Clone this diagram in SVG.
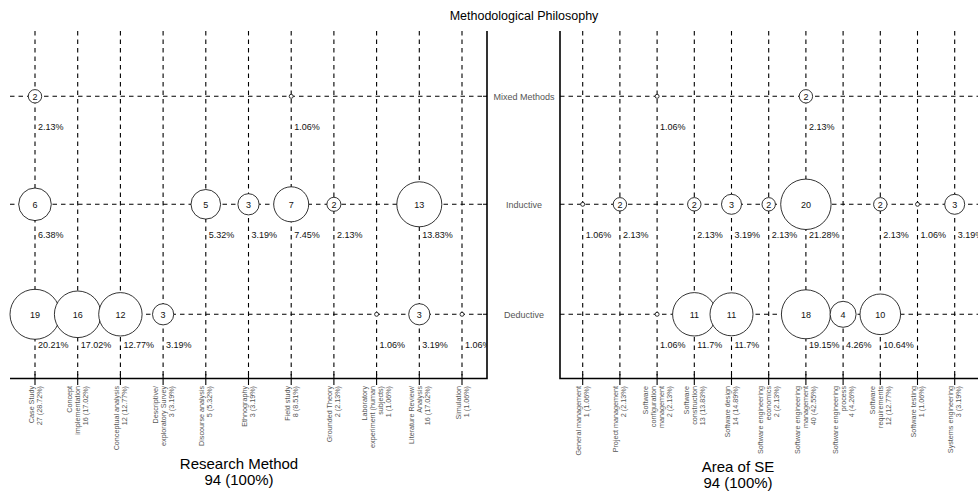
<svg xmlns="http://www.w3.org/2000/svg" width="978" height="493" viewBox="0 0 978 493">
  <style>
    .grid { stroke: #000; stroke-width: 1.1; stroke-dasharray: 4.5 4; fill: none; }
    .axis { stroke: #000; stroke-width: 1.6; fill: none; }
    .tick { stroke: #000; stroke-width: 1.1; }
    .bub { fill: #fff; stroke: #000; stroke-width: 0.8; }
    .num { font-family: "Liberation Sans", Arial, sans-serif; font-size: 9px; fill: #111; text-anchor: middle; }
    .pct { font-family: "Liberation Sans", Arial, sans-serif; font-size: 9px; fill: #111; }
    .row { font-family: "Liberation Sans", Arial, sans-serif; font-size: 9px; fill: #555; text-anchor: middle; }
    .cat { font-family: "Liberation Sans", Arial, sans-serif; font-size: 7.2px; fill: #555; text-anchor: end; }
    .title { font-family: "Liberation Sans", Arial, sans-serif; fill: #000; text-anchor: middle; }
  </style>
  <defs>
    <clipPath id="leftPanel"><rect x="0" y="0" width="487" height="493"/></clipPath>
  </defs>
  <rect width="978" height="493" fill="#fff"/>

  <text class="title" x="524" y="20" font-size="12.5">Methodological Philosophy</text>

  <!-- grid lines (connectors) -->
  <g id="connectors">
    <g clip-path="url(#leftPanel)">
      <path class="grid" d="M10 96.3H487M10 204.3H487M10 314.3H487"/>
      <path class="grid" d="M35 31V378.5M77.7 31V378.5M120.4 31V378.5M163.1 31V378.5M205.8 31V378.5M248.5 31V378.5M291.2 31V378.5M333.9 31V378.5M376.6 31V378.5M419.3 31V378.5M462 31V378.5"/>
    </g>
    <path class="grid" d="M560 96.3H978M560 204.3H978M560 314.3H978"/>
    <path class="grid" d="M582.7 31V378.5M619.9 31V378.5M657.1 31V378.5M694.3 31V378.5M731.5 31V378.5M768.7 31V378.5M805.9 31V378.5M843.1 31V378.5M880.3 31V378.5M917.5 31V378.5M954.7 31V378.5"/>
  </g>

  <!-- axes -->
  <g id="axes">
    <path class="axis" d="M10 378.5H487V31"/>
    <path class="axis" d="M560 31V378.5H978"/>
    <path class="tick" d="M483 96.3H487M483 204.3H487M483 314.3H487"/>
    <path class="tick" d="M35 374V385M77.7 374V385M120.4 374V385M163.1 374V385M205.8 374V385M248.5 374V385M291.2 374V385M333.9 374V385M376.6 374V385M419.3 374V385M462 374V385"/>
    <path class="tick" d="M582.7 374V385M619.9 374V385M657.1 374V385M694.3 374V385M731.5 374V385M768.7 374V385M805.9 374V385M843.1 374V385M880.3 374V385M917.5 374V385M954.7 374V385"/>
  </g>

  <!-- row labels -->
  <g id="rowLabels">
    <text class="row" x="524" y="99.5">Mixed Methods</text>
    <text class="row" x="524" y="207.5">Inductive</text>
    <text class="row" x="524" y="317.5">Deductive</text>
  </g>

  <!-- Research Method bubbles -->
  <g id="research-method" clip-path="url(#leftPanel)">
    <g id="rm-mixed-case"><circle class="bub" cx="35" cy="96.3" r="6.7"/><text class="num" x="35" y="99.5">2</text><text class="pct" x="38" y="130.3">2.13%</text></g>
    <g id="rm-mixed-field"><circle class="bub" cx="291.2" cy="96.3" r="2"/><text class="pct" x="294.2" y="130.3">1.06%</text></g>

    <g id="rm-ind-case"><circle class="bub" cx="35" cy="204.3" r="16.3"/><text class="num" x="35" y="207.5">6</text><text class="pct" x="38" y="238.3">6.38%</text></g>
    <g id="rm-ind-discourse"><circle class="bub" cx="205.8" cy="204.3" r="14.8"/><text class="num" x="205.8" y="207.5">5</text><text class="pct" x="208.8" y="238.3">5.32%</text></g>
    <g id="rm-ind-ethno"><circle class="bub" cx="248.5" cy="204.3" r="10.6"/><text class="num" x="248.5" y="207.5">3</text><text class="pct" x="251.5" y="238.3">3.19%</text></g>
    <g id="rm-ind-field"><circle class="bub" cx="291.2" cy="204.3" r="17.5"/><text class="num" x="291.2" y="207.5">7</text><text class="pct" x="294.2" y="238.3">7.45%</text></g>
    <g id="rm-ind-grounded"><circle class="bub" cx="333.9" cy="204.3" r="7"/><text class="num" x="333.9" y="207.5">2</text><text class="pct" x="336.9" y="238.3">2.13%</text></g>
    <g id="rm-ind-litreview"><circle class="bub" cx="419.3" cy="204.3" r="22.5"/><text class="num" x="419.3" y="207.5">13</text><text class="pct" x="422.3" y="238.3">13.83%</text></g>

    <g id="rm-ded-case"><circle class="bub" cx="35" cy="314.3" r="25"/><text class="num" x="35" y="317.5">19</text><text class="pct" x="38" y="348.3">20.21%</text></g>
    <g id="rm-ded-concept"><circle class="bub" cx="77.7" cy="314.3" r="23.3"/><text class="num" x="77.7" y="317.5">16</text><text class="pct" x="80.7" y="348.3">17.02%</text></g>
    <g id="rm-ded-conceptual"><circle class="bub" cx="120.4" cy="314.3" r="21.7"/><text class="num" x="120.4" y="317.5">12</text><text class="pct" x="123.4" y="348.3">12.77%</text></g>
    <g id="rm-ded-survey"><circle class="bub" cx="163.1" cy="314.3" r="10.6"/><text class="num" x="163.1" y="317.5">3</text><text class="pct" x="166.1" y="348.3">3.19%</text></g>
    <g id="rm-ded-lab"><circle class="bub" cx="376.6" cy="314.3" r="2"/><text class="pct" x="379.6" y="348.3">1.06%</text></g>
    <g id="rm-ded-litreview"><circle class="bub" cx="419.3" cy="314.3" r="10.6"/><text class="num" x="419.3" y="317.5">3</text><text class="pct" x="422.3" y="348.3">3.19%</text></g>
    <g id="rm-ded-simulation"><circle class="bub" cx="462" cy="314.3" r="2"/><text class="pct" x="465" y="348.3">1.06%</text></g>
  </g>

  <!-- Area of SE bubbles -->
  <g id="area-of-se">
    <g id="se-mixed-config"><circle class="bub" cx="657.1" cy="96.3" r="2"/><text class="pct" x="660.1" y="130.3">1.06%</text></g>
    <g id="se-mixed-mgmt"><circle class="bub" cx="805.9" cy="96.3" r="6.7"/><text class="num" x="805.9" y="99.5">2</text><text class="pct" x="808.9" y="130.3">2.13%</text></g>

    <g id="se-ind-general"><circle class="bub" cx="582.7" cy="204.3" r="2"/><text class="pct" x="585.7" y="238.3">1.06%</text></g>
    <g id="se-ind-project"><circle class="bub" cx="619.9" cy="204.3" r="6.7"/><text class="num" x="619.9" y="207.5">2</text><text class="pct" x="622.9" y="238.3">2.13%</text></g>
    <g id="se-ind-construction"><circle class="bub" cx="694.3" cy="204.3" r="6.7"/><text class="num" x="694.3" y="207.5">2</text><text class="pct" x="697.3" y="238.3">2.13%</text></g>
    <g id="se-ind-design"><circle class="bub" cx="731.5" cy="204.3" r="10"/><text class="num" x="731.5" y="207.5">3</text><text class="pct" x="734.5" y="238.3">3.19%</text></g>
    <g id="se-ind-economics"><circle class="bub" cx="768.7" cy="204.3" r="6.7"/><text class="num" x="768.7" y="207.5">2</text><text class="pct" x="771.7" y="238.3">2.13%</text></g>
    <g id="se-ind-mgmt"><circle class="bub" cx="805.9" cy="204.3" r="25.2"/><text class="num" x="805.9" y="207.5">20</text><text class="pct" x="808.9" y="238.3">21.28%</text></g>
    <g id="se-ind-requirements"><circle class="bub" cx="880.3" cy="204.3" r="6.7"/><text class="num" x="880.3" y="207.5">2</text><text class="pct" x="883.3" y="238.3">2.13%</text></g>
    <g id="se-ind-testing"><circle class="bub" cx="917.5" cy="204.3" r="2"/><text class="pct" x="920.5" y="238.3">1.06%</text></g>
    <g id="se-ind-systems"><circle class="bub" cx="954.7" cy="204.3" r="10"/><text class="num" x="954.7" y="207.5">3</text><text class="pct" x="957.7" y="238.3">3.19%</text></g>

    <g id="se-ded-config"><circle class="bub" cx="657.1" cy="314.3" r="2"/><text class="pct" x="660.1" y="348.3">1.06%</text></g>
    <g id="se-ded-construction"><circle class="bub" cx="694.3" cy="314.3" r="21.7"/><text class="num" x="694.3" y="317.5">11</text><text class="pct" x="697.3" y="348.3">11.7%</text></g>
    <g id="se-ded-design"><circle class="bub" cx="731.5" cy="314.3" r="21.5"/><text class="num" x="731.5" y="317.5">11</text><text class="pct" x="734.5" y="348.3">11.7%</text></g>
    <g id="se-ded-mgmt"><circle class="bub" cx="805.9" cy="314.3" r="24.5"/><text class="num" x="805.9" y="317.5">18</text><text class="pct" x="808.9" y="348.3">19.15%</text></g>
    <g id="se-ded-process"><circle class="bub" cx="843.1" cy="314.3" r="13"/><text class="num" x="843.1" y="317.5">4</text><text class="pct" x="846.1" y="348.3">4.26%</text></g>
    <g id="se-ded-requirements"><circle class="bub" cx="880.3" cy="314.3" r="20.3"/><text class="num" x="880.3" y="317.5">10</text><text class="pct" x="883.3" y="348.3">10.64%</text></g>
  </g>

  <!-- category labels, Research Method -->
  <g id="rm-categories">
    <text class="cat" transform="translate(35,386) rotate(-90)"><tspan x="0" y="-1.5">Case Study</tspan><tspan x="0" y="6.5">27 (28.72%)</tspan></text>
    <text class="cat" transform="translate(77.7,386) rotate(-90)"><tspan x="0" y="-5.5">Concept</tspan><tspan x="0" y="2.5">implementation</tspan><tspan x="0" y="10.5">16 (17.02%)</tspan></text>
    <text class="cat" transform="translate(120.4,386) rotate(-90)"><tspan x="0" y="-1.5">Conceptual analysis</tspan><tspan x="0" y="6.5">12 (12.77%)</tspan></text>
    <text class="cat" transform="translate(163.1,386) rotate(-90)"><tspan x="0" y="-5.5">Descriptive/</tspan><tspan x="0" y="2.5">exploratory Survey</tspan><tspan x="0" y="10.5">3 (3.19%)</tspan></text>
    <text class="cat" transform="translate(205.8,386) rotate(-90)"><tspan x="0" y="-1.5">Discourse analysis</tspan><tspan x="0" y="6.5">5 (5.32%)</tspan></text>
    <text class="cat" transform="translate(248.5,386) rotate(-90)"><tspan x="0" y="-1.5">Ethnography</tspan><tspan x="0" y="6.5">3 (3.19%)</tspan></text>
    <text class="cat" transform="translate(291.2,386) rotate(-90)"><tspan x="0" y="-1.5">Field study</tspan><tspan x="0" y="6.5">8 (8.51%)</tspan></text>
    <text class="cat" transform="translate(333.9,386) rotate(-90)"><tspan x="0" y="-1.5">Grounded Theory</tspan><tspan x="0" y="6.5">2 (2.13%)</tspan></text>
    <text class="cat" transform="translate(376.6,386) rotate(-90)"><tspan x="0" y="-9.5">Laboratory</tspan><tspan x="0" y="-1.5">experiment (human</tspan><tspan x="0" y="6.5">subjects)</tspan><tspan x="0" y="14.5">1 (1.06%)</tspan></text>
    <text class="cat" transform="translate(419.3,386) rotate(-90)"><tspan x="0" y="-5.5">Literature Review/</tspan><tspan x="0" y="2.5">Analysis</tspan><tspan x="0" y="10.5">16 (17.02%)</tspan></text>
    <text class="cat" transform="translate(462,386) rotate(-90)"><tspan x="0" y="-1.5">Simulation</tspan><tspan x="0" y="6.5">1 (1.06%)</tspan></text>
  </g>

  <!-- category labels, Area of SE -->
  <g id="se-categories">
    <text class="cat" transform="translate(582.7,386) rotate(-90)"><tspan x="0" y="-1.5">General management</tspan><tspan x="0" y="6.5">1 (1.06%)</tspan></text>
    <text class="cat" transform="translate(619.9,386) rotate(-90)"><tspan x="0" y="-1.5">Project management</tspan><tspan x="0" y="6.5">2 (2.13%)</tspan></text>
    <text class="cat" transform="translate(657.1,386) rotate(-90)"><tspan x="0" y="-9.5">Software</tspan><tspan x="0" y="-1.5">configuration</tspan><tspan x="0" y="6.5">management</tspan><tspan x="0" y="14.5">2 (2.13%)</tspan></text>
    <text class="cat" transform="translate(694.3,386) rotate(-90)"><tspan x="0" y="-5.5">Software</tspan><tspan x="0" y="2.5">construction</tspan><tspan x="0" y="10.5">13 (13.83%)</tspan></text>
    <text class="cat" transform="translate(731.5,386) rotate(-90)"><tspan x="0" y="-1.5">Software design</tspan><tspan x="0" y="6.5">14 (14.89%)</tspan></text>
    <text class="cat" transform="translate(768.7,386) rotate(-90)"><tspan x="0" y="-5.5">Software engineering</tspan><tspan x="0" y="2.5">economics</tspan><tspan x="0" y="10.5">2 (2.13%)</tspan></text>
    <text class="cat" transform="translate(805.9,386) rotate(-90)"><tspan x="0" y="-5.5">Software engineering</tspan><tspan x="0" y="2.5">management</tspan><tspan x="0" y="10.5">40 (42.55%)</tspan></text>
    <text class="cat" transform="translate(843.1,386) rotate(-90)"><tspan x="0" y="-5.5">Software engineering</tspan><tspan x="0" y="2.5">process</tspan><tspan x="0" y="10.5">4 (4.26%)</tspan></text>
    <text class="cat" transform="translate(880.3,386) rotate(-90)"><tspan x="0" y="-5.5">Software</tspan><tspan x="0" y="2.5">requirements</tspan><tspan x="0" y="10.5">12 (12.77%)</tspan></text>
    <text class="cat" transform="translate(917.5,386) rotate(-90)"><tspan x="0" y="-1.5">Software testing</tspan><tspan x="0" y="6.5">1 (1.06%)</tspan></text>
    <text class="cat" transform="translate(954.7,386) rotate(-90)"><tspan x="0" y="-1.5">Systems engineering</tspan><tspan x="0" y="6.5">3 (3.19%)</tspan></text>
  </g>

  <!-- axis titles -->
  <g id="axisTitles">
    <text class="title" x="239" y="469" font-size="15">Research Method</text>
    <text class="title" x="239" y="485" font-size="15">94 (100%)</text>
    <text class="title" x="738" y="472" font-size="15">Area of SE</text>
    <text class="title" x="738" y="488" font-size="15">94 (100%)</text>
  </g>
</svg>
